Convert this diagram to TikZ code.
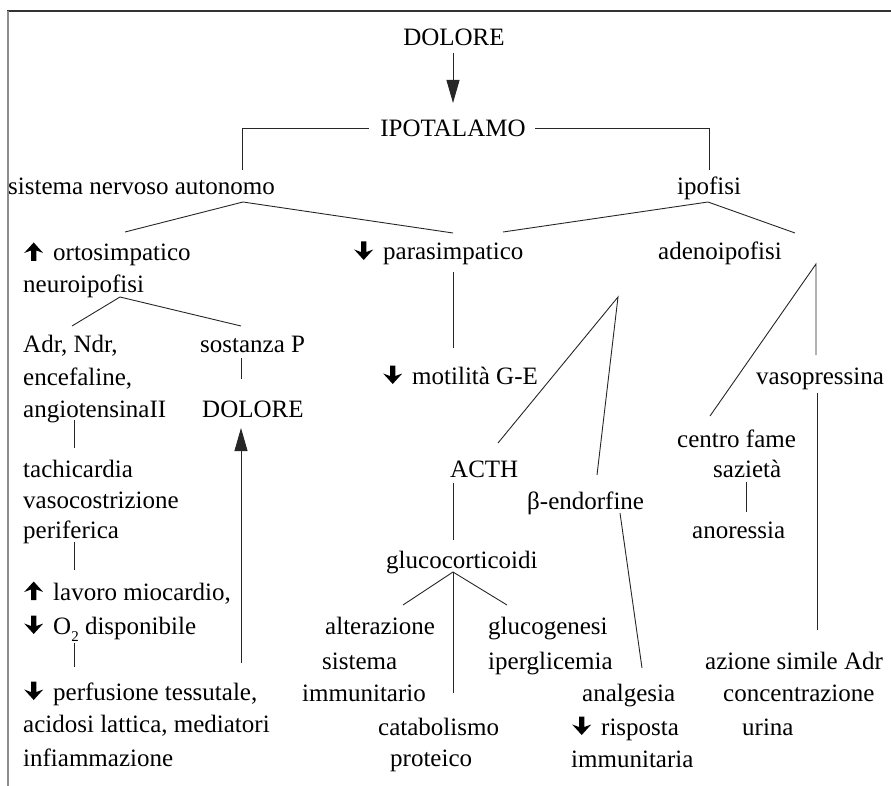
\documentclass[tikz,border=0pt]{standalone}
\usepackage{fontspec}
\setmainfont{Liberation Serif}
\usetikzlibrary{arrows.meta}
\newcommand{\arrUp}{\tikz[baseline=0pt,x=1pt,y=1pt]\fill (6.3,0) -- (11.7,0) -- (11.7,10.5) -- (18.5,8) -- (9,18.5) -- (-0.5,8) -- (6.3,10.5) -- cycle;}
\newcommand{\arrDn}{\tikz[baseline=0pt,x=1pt,y=1pt]\fill (6.3,18.5) -- (11.7,18.5) -- (11.7,8) -- (18.5,10.5) -- (9,0) -- (-0.5,10.5) -- (6.3,8) -- cycle;}
\tikzset{
  txt/.style={anchor=base west, inner sep=0pt, font=\fontsize{25}{30}\selectfont},
  ctxt/.style={anchor=base, inner sep=0pt, font=\fontsize{25}{30}\selectfont},
  conn/.style={draw=black!85, line width=0.9pt},
  bigarrow/.style={conn, -{Triangle[length=23pt,width=13pt]}},
}
\begin{document}
\begin{tikzpicture}[x=1pt,y=-1pt]
\useasboundingbox (0,0) rectangle (891,786);
% frame
\draw[black!80, line width=1.4pt] (7,11) -- (891,11);
\draw[black!45, line width=2pt] (7.5,11) -- (7.5,786);

% texts
\node[ctxt] (dol) at (454,46) {DOLORE};
\node[ctxt] (ipot) at (453,137) {IPOTALAMO};
\node[txt] (sna) at (8,195) {sistema nervoso autonomo};
\node[ctxt] (ipof) at (709,195) {ipofisi};
\node[txt] (orto) at (24,261) {\arrUp\hspace{10pt}ortosimpatico};
\node[txt] (neuro) at (23,292) {neuroipofisi};
\node[txt] (para) at (354,260) {\arrDn\hspace{10pt}parasimpatico};
\node[txt] (adeno) at (658,260) {adenoipofisi};
\node[txt] (adr1) at (23,352) {Adr, Ndr,};
\node[txt] (adr2) at (23,385) {encefaline,};
\node[txt] (adr3) at (23,417) {angiotensinaII};
\node[txt] (sostP) at (200,352) {sostanza P};
\node[txt] (dol2) at (202,417) {DOLORE};
\node[txt] (tachi) at (23,477) {tachicardia};
\node[txt] (vaso) at (23,508) {vasocostrizione};
\node[txt] (perif) at (23,538) {periferica};
\node[txt] (lav) at (24,600) {\arrUp\hspace{10pt}lavoro miocardio,};
\node[txt] (otwo) at (24,634) {\arrDn\hspace{10pt}O\raisebox{-7pt}{\fontsize{15}{15}\selectfont 2} disponibile};
\node[txt] (perf) at (24,700) {\arrDn\hspace{10pt}perfusione tessutale,};
\node[txt] (acid) at (23,732) {acidosi lattica, mediatori};
\node[txt] (infl) at (23,766) {infiammazione};
\node[txt] (motil) at (383,384) {\arrDn\hspace{10pt}motilità G-E};
\node[txt] (acth) at (450,477) {ACTH};
\node[txt] (beta) at (527,509) {β-endorfine};
\node[txt] (gluco) at (386,568) {glucocorticoidi};
\node[txt] (alter) at (325,634) {alterazione};
\node[txt] (sist) at (322,669) {sistema};
\node[txt] (immuno) at (302,701) {immunitario};
\node[txt] (catab) at (378,735) {catabolismo};
\node[txt] (prot) at (390,766) {proteico};
\node[txt] (glucog) at (488,634) {glucogenesi};
\node[txt] (iperg) at (488,669) {iperglicemia};
\node[txt] (analg) at (582,701) {analgesia};
\node[txt] (risp) at (572,735) {\arrDn\hspace{10pt}risposta};
\node[txt] (immunit) at (571,767) {immunitaria};
\node[txt] (centro) at (677,447) {centro fame};
\node[txt] (saz) at (713,477) {sazietà};
\node[txt] (anor) at (692,538) {anoressia};
\node[txt] (vasop) at (756,384) {vasopressina};
\node[txt] (azione) at (705,669) {azione simile Adr};
\node[txt] (conc) at (723,701) {concentrazione};
\node[txt] (urina) at (742,735) {urina};

% connector coordinates
\coordinate (c1) at (453,53);   \coordinate (c2) at (453,103);
\coordinate (b1) at (369,128);  \coordinate (b2) at (242,128);  \coordinate (b3) at (242,170);
\coordinate (b4) at (535,128);  \coordinate (b5) at (709,128);  \coordinate (b6) at (709,170);
\coordinate (s1) at (125,232);  \coordinate (s0) at (243,202);  \coordinate (s2) at (453,233);
\coordinate (i1) at (503,232);  \coordinate (i0) at (708,202);  \coordinate (i2) at (795,233);
\coordinate (n1) at (72,326);   \coordinate (n0) at (120,297);  \coordinate (n2) at (241,326);
\coordinate (p1) at (241,358);  \coordinate (p2) at (241,379);
\coordinate (a1) at (74,420);   \coordinate (a2) at (74,448);
\coordinate (d1) at (241,663);  \coordinate (d2) at (241,428);
\coordinate (f1) at (74,542);   \coordinate (f2) at (74,570);
\coordinate (o1) at (74,643);   \coordinate (o2) at (74,667);
\coordinate (m1) at (453,272);  \coordinate (m2) at (453,348);
\coordinate (e1) at (498,443);  \coordinate (e0) at (618,297);  \coordinate (e2) at (597,475);
\coordinate (h1) at (710,416);  \coordinate (h0) at (816,264);  \coordinate (h2) at (816,355);
\coordinate (v1) at (817,393);  \coordinate (v2) at (817,630);
\coordinate (z1) at (746,482);  \coordinate (z2) at (746,512);
\coordinate (t1) at (453,483);  \coordinate (t2) at (453,540);
\coordinate (r1) at (620,513);  \coordinate (r2) at (642,668);
\coordinate (g1) at (403,605);  \coordinate (g0) at (453,572);  \coordinate (g2) at (507,605);
\coordinate (g3) at (453,693);

% connectors
\draw[bigarrow] (c1) -- (c2);
\draw[conn] (b1) -- (b2) -- (b3);
\draw[conn] (b4) -- (b5) -- (b6);
\draw[conn] (s1) -- (s0) -- (s2);
\draw[conn] (i1) -- (i0) -- (i2);
\draw[conn] (n1) -- (n0) -- (n2);
\draw[conn] (p1) -- (p2);
\draw[conn] (a1) -- (a2);
\draw[bigarrow] (d1) -- (d2);
\draw[conn] (f1) -- (f2);
\draw[conn] (o1) -- (o2);
\draw[conn] (m1) -- (m2);
\draw[conn] (e1) -- (e0) -- (e2);
\draw[conn] (h1) -- (h0) -- (h2);
\draw[conn] (v1) -- (v2);
\draw[conn] (z1) -- (z2);
\draw[conn] (t1) -- (t2);
\draw[conn] (r1) -- (r2);
\draw[conn] (g1) -- (g0) -- (g2);
\draw[conn] (g0) -- (g3);
\end{tikzpicture}
\end{document}
